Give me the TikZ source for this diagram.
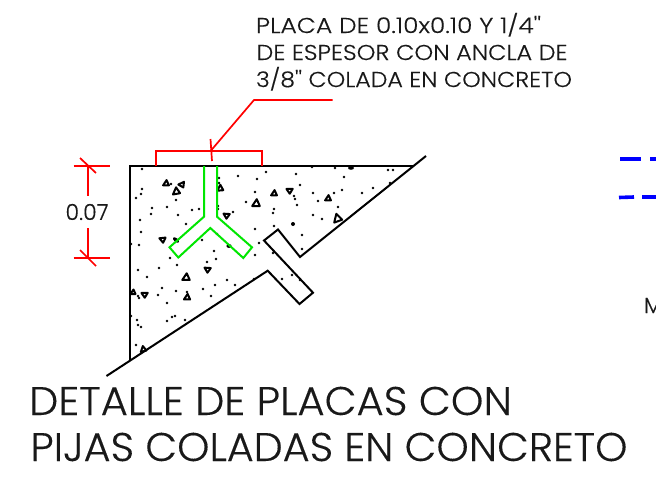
\documentclass[tikz,border=0pt]{standalone}
\usepackage{fontspec}
\usepackage{graphicx}
\setmainfont{Poppins Light}
\newfontfamily\gothic[FakeBold=0.25]{Poppins Light}
\definecolor{cadred}{RGB}{255,0,0}
\definecolor{cadgreen}{RGB}{0,230,0}
\definecolor{cadblue}{RGB}{0,0,255}
\definecolor{inktxt}{RGB}{25,25,25}
\newcommand{\fitw}[3]{\fontsize{#2}{#2}\gothic\resizebox{#1pt}{\height}{#3}}
\tikzset{
  concrete/.style={draw=black,line width=2pt,line join=miter},
  anchorbar/.style={draw=cadgreen,line width=2pt,line join=miter},
  redline/.style={draw=cadred,line width=1.7pt},
  blueline/.style={draw=cadblue,line width=3.6pt},
  label/.style={anchor=base west,inner sep=0pt,outer sep=0pt,text=inktxt},
  grain/.style={draw=black,line width=2pt,line join=round,fill=white}
}
\begin{document}
\begin{tikzpicture}[x=1pt,y=-1pt]
\useasboundingbox (0,0) rectangle (656,491);
\fill[white] (0,0) rectangle (656,491);
% stipple dots
\foreach \p in {(142,169),(171,184),(142,189),(141,194),(136,198),(176,200),(152,208),(151,214),(167,207),(192,210),(199,209),(178,215),(140,220),(186,224),(141,232),(131,244),(139,245),(170,258),(202,240),(217,234),(214,251),(216,259),(219,178),(219,183),(238,176),(257,179),(255,192),(246,202),(218,206),(218,209),(233,212),(255,229),(259,243),(266,172),(296,174),(300,185),(294,196),(295,199),(297,205),(274,209),(273,213),(313,215),(322,219),(293,224),(274,226),(302,235),(302,249),(255,255),(273,253),(292,275),(282,279),(300,280),(254,279),(235,285),(335,168),(312,167),(344,177),(388,170),(393,170),(390,183),(373,188),(362,193),(342,190),(334,193),(313,193),(318,201),(338,207),(177,265),(207,262),(138,270),(159,268),(147,277),(162,288),(176,291),(187,292),(203,289),(215,285),(227,280),(211,296),(158,295),(138,296),(139,298),(167,303),(131,316),(137,320),(138,325),(141,327),(175,316),(172,317),(167,321),(185,320),(136,345)}
  {\fill[black] \p circle (1.45);}
\fill[black] (351,168) ellipse (3 and 1.8);
\fill[black,rotate around={-40:(176,240)}] (176,240) ellipse (3.6 and 1.9);
\fill[black] (229,246) ellipse (2.6 and 1.9);
\fill[black] (293,224) circle (2);
% aggregate triangles: centre, size, rotation
\foreach \cx/\cy/\r/\a in {166/183/2.9/0,182/184/2.9/-30,176/191/3.6/10,220/188/3.1/5,227/215/2.9/-60,163/239/2.9/-50,274/193/2.9/0,290/190/2.9/-55,256/203/3.8/0,328/198/2.9/0,337/218/4.2/20,186/277/3.7/0,208/269/2.9/-60,187/297/3.1/0,145/294/2.9/-55,133/292/2.5/0,143/349/2.9/15}
  {\draw[grain,rotate around={\a:(\cx,\cy)}] (\cx-\r,\cy+\r*.8) -- (\cx+\r,\cy+\r*.8) -- (\cx+\r*.2,\cy-\r) -- cycle;}
% concrete outline
\draw[concrete] (426,156) -- (300,257) -- (278,229.5) -- (264,240.5) -- (313,292.7) -- (299.5,304) -- (267.7,270.7) -- (106.5,376);
\draw[concrete] (130,360) -- (130,166) -- (414,166);
% anchor
\draw[anchorbar] (204,166) -- (204,216.7) -- (169.5,247.3) -- (178.3,257.5) -- (210.3,228) -- (243.3,258) -- (252,247.3) -- (217,216.7) -- (217,166);
% leader and plate
\coordinate (lhook) at (332.5,100);
\coordinate (lknee) at (254,100);
\coordinate (ltip) at (211,150.5);
\draw[redline] (156,166) -- (156,151) -- (262,151) -- (262,166);
\draw[redline] (lhook) -- (lknee) -- (ltip);
\draw[redline] (210.5,139) -- (212,161);
% dimension
\coordinate (dimtop) at (88,166);
\coordinate (dimbot) at (88,258);
\node[label,anchor=center] (dimtxt) at (87,212) {\fitw{43}{22}{0.07}};
\draw[redline] (73.5,166) -- (110,166);
\draw[redline] (73.5,258) -- (110,258);
\draw[redline] (dimtop) -- (88,196);
\draw[redline] (88,228) -- (dimbot);
\draw[redline] (80,158) -- (96,173);
\draw[redline] (80,250) -- (96,266);
% blue dashes
\draw[blueline] (620,159) -- (641,159);
\draw[blueline] (650,159) -- (656,159);
\draw[blueline] (619,197.5) -- (634,197);
\draw[blueline] (642,197) -- (656,197);
% texts
\node[label] (note1) at (256,33) {\fitw{285}{21.5}{PLACA DE 0.10x0.10 Y 1/4''}};
\node[label] (note2) at (256.5,60) {\fitw{311}{21.5}{DE ESPESOR CON ANCLA DE}};
\node[label] (note3) at (256,87) {\fitw{316}{21.5}{3/8'' COLADA EN CONCRETO}};
\node[label] (title1) at (29,415) {\fitw{483}{40}{DETALLE DE PLACAS CON}};
\node[label] (title2) at (30.5,461) {\fitw{597}{40}{PIJAS COLADAS EN CONCRETO}};
\node[label] (cutm) at (644,313) {\fontsize{22}{22}\gothic M};
\end{tikzpicture}
\end{document}
